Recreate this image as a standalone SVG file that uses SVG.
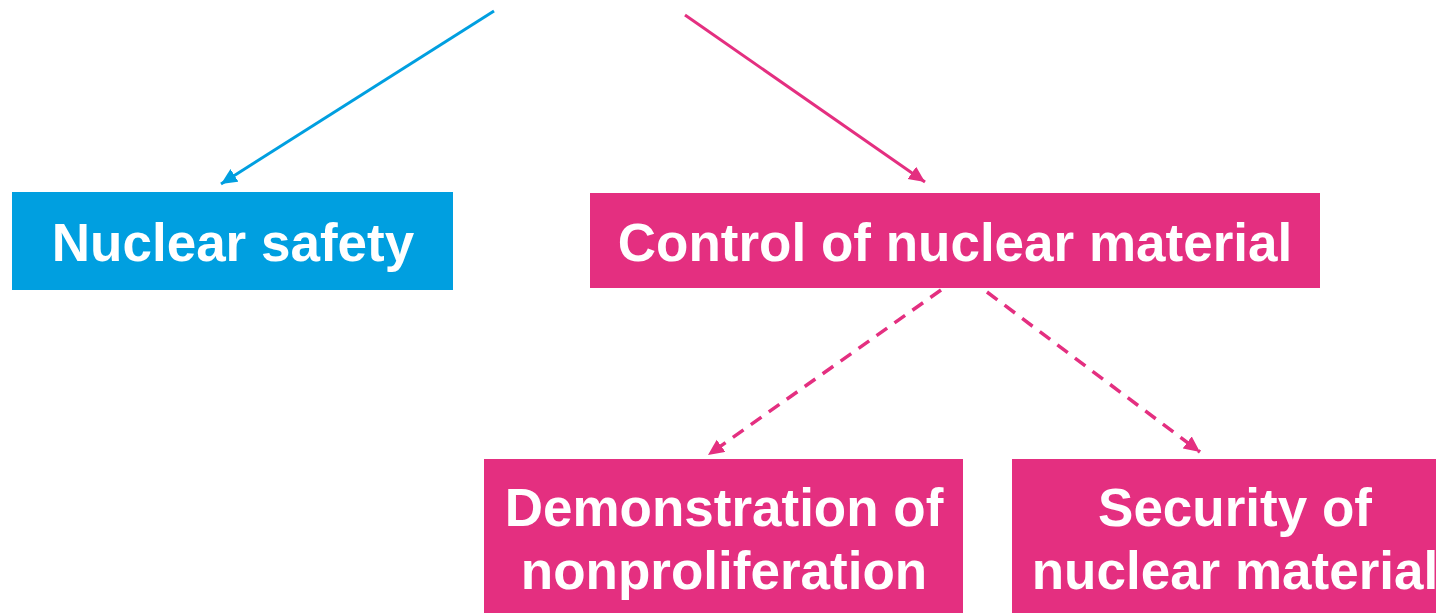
<svg xmlns="http://www.w3.org/2000/svg" width="1436" height="613" viewBox="0 0 1436 613">
<style>
.box-blue{fill:#009FE0}
.box-pink{fill:#E42F80}
.lbl{font-family:"Liberation Sans",Arial,sans-serif;font-weight:bold;font-size:53px;fill:#FFFFFF;text-anchor:middle}
.c-blue{stroke:#009FE0;stroke-width:3;fill:none}
.c-pink{stroke:#E42F80;stroke-width:3;fill:none}
.dash{stroke-dasharray:13 9;stroke-width:3.5}
</style>
<defs>
<marker id="ah-blue" markerUnits="userSpaceOnUse" markerWidth="18" markerHeight="16" refX="16" refY="7.5" orient="auto">
<path d="M0,0 L16,7.5 L0,15 Z" fill="#009FE0"/>
</marker>
<marker id="ah-pink" markerUnits="userSpaceOnUse" markerWidth="18" markerHeight="16" refX="16" refY="7.5" orient="auto">
<path d="M0,0 L16,7.5 L0,15 Z" fill="#E42F80"/>
</marker>
</defs>
<rect width="1436" height="613" fill="#FFFFFF"/>
<g id="connectors">
<path class="c-blue" d="M494,11 L221,184" marker-end="url(#ah-blue)"/>
<path class="c-pink" d="M685,15 L925,182" marker-end="url(#ah-pink)"/>
<path class="c-pink dash" d="M941,290 L708,455" marker-end="url(#ah-pink)"/>
<path class="c-pink dash" d="M987,292 L1200,452" marker-end="url(#ah-pink)"/>
</g>
<g id="node-nuclear-safety">
<rect class="box-blue" x="12" y="192" width="441" height="98"/>
<text class="lbl" x="233" y="261">Nuclear safety</text>
</g>
<g id="node-control">
<rect class="box-pink" x="590" y="193" width="730" height="95"/>
<text class="lbl" x="955" y="261">Control of nuclear material</text>
</g>
<g id="node-demonstration">
<rect class="box-pink" x="484" y="459" width="479" height="154"/>
<text class="lbl" x="724" y="526">Demonstration of</text>
<text class="lbl" x="724" y="589">nonproliferation</text>
</g>
<g id="node-security">
<rect class="box-pink" x="1012" y="459" width="424" height="154"/>
<text class="lbl" x="1235" y="526">Security of</text>
<text class="lbl" x="1235" y="589">nuclear material</text>
</g>
</svg>
